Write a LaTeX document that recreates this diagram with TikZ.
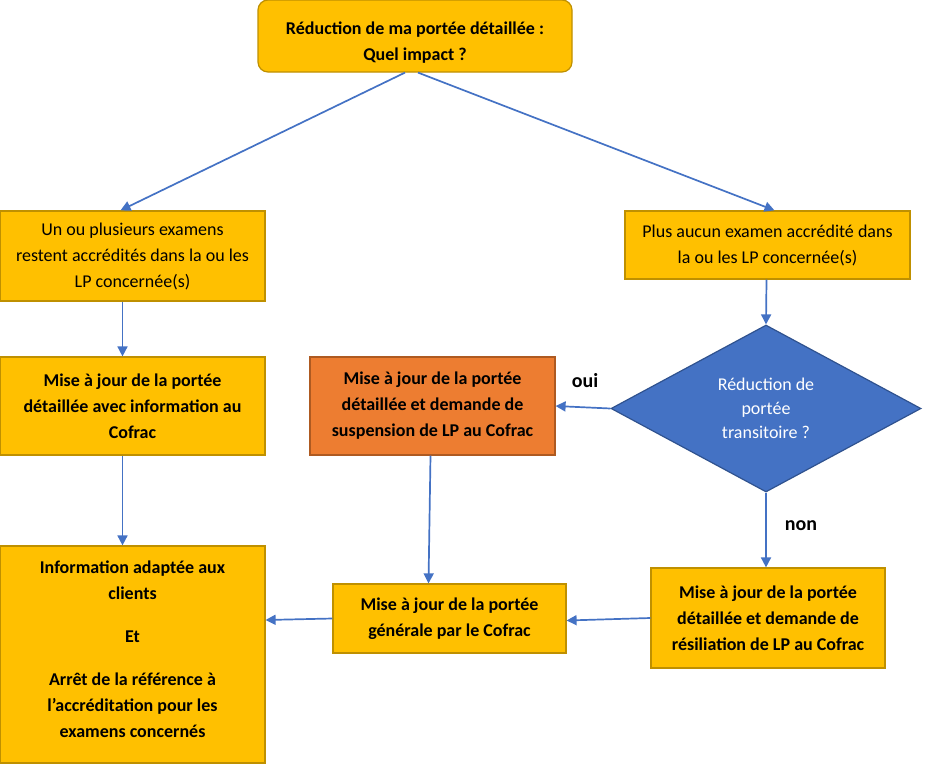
\documentclass[tikz,border=0pt]{standalone}
\usepackage{fontspec}
\setmainfont{Carlito}
\usepackage{tikz}
\usetikzlibrary{arrows.meta, shapes.geometric}

\definecolor{gold}{HTML}{FFC000}
\definecolor{golddark}{HTML}{BF9000}
\definecolor{orangebox}{HTML}{ED7D31}
\definecolor{orangedark}{HTML}{AE5A21}
\definecolor{bluebox}{HTML}{4472C4}
\definecolor{bluedark}{HTML}{2F528F}

\begin{document}
\begin{tikzpicture}[x=1pt, y=-1pt,
    box/.style={draw=golddark, fill=gold, line width=1.2pt, align=center, inner sep=0pt,
        font=\fontsize{18}{26}\selectfont},
    boldbox/.style={box, font=\fontsize{18}{26}\selectfont\bfseries},
    flow/.style={draw=bluebox, line width=1.7pt, -{Triangle[length=10pt,width=10pt]}},
    answer/.style={font=\fontsize{20}{24}\selectfont\bfseries}]
    \useasboundingbox (0,0) rectangle (933,768);
    \node[boldbox, rounded corners=10pt, minimum width=314pt, minimum height=72pt]
        (impact) at (415,36) {\rule{0pt}{25pt}Réduction de ma portée détaillée :\\Quel impact ?};
    \node[box, minimum width=265pt, minimum height=90pt] (restent) at (132.5,256)
        {Un ou plusieurs examens\\restent accrédités dans la ou les\\LP concernée(s)};
    \node[box, minimum width=285pt, minimum height=68pt] (aucun) at (767.5,245)
        {Plus aucun examen accrédité dans\\la ou les LP concernée(s)};
    \node[boldbox, minimum width=265pt, minimum height=98pt]
        (majinfo) at (132.5,406) {Mise à jour de la portée\\détaillée avec information au\\Cofrac};
    \node[boldbox, draw=orangedark, fill=orangebox, minimum width=245pt, minimum height=98pt]
        (suspension) at (432.5,406) {Mise à jour de la portée\\détaillée et demande de\\suspension de LP au Cofrac};
    \node[box, diamond, draw=bluedark, fill=bluebox, text=white, aspect=1.86,
        minimum width=310pt, minimum height=167pt, font=\fontsize{18}{24}\selectfont]
        (transitoire) at (766,408.5) {Réduction de\\portée\\transitoire ?};
    \node[boldbox, minimum width=265pt, minimum height=217pt]
        (clients) at (132.5,654.5) {Information adaptée aux\\clients\\[17pt]Et\\[17pt]Arrêt de la référence à\\l’accréditation pour les\\examens concernés\rule[-10pt]{0pt}{10pt}};
    \node[boldbox, minimum width=233pt, minimum height=69pt]
        (generale) at (449.5,618.5) {Mise à jour de la portée\\générale par le Cofrac};
    \node[boldbox, minimum width=234pt, minimum height=100pt]
        (resiliation) at (768,618) {Mise à jour de la portée\\détaillée et demande de\\résiliation de LP au Cofrac};
    % connectors
    \draw[flow] ([xshift=-10pt]impact.south) -- ([xshift=-12pt]restent.north);
    \draw[flow] ([xshift=3pt]impact.south) -- ([xshift=7pt]aucun.north);
    \draw[flow] ([xshift=-10pt]restent.south) -- ([xshift=-10pt]majinfo.north);
    \draw[flow] ([xshift=-10pt]majinfo.south) -- ([xshift=-10pt]clients.north);
    \draw[flow] ([xshift=-1pt]aucun.south) -- (transitoire.north);
    \draw[flow] (transitoire.west) -- (suspension.east);
    \draw[flow] (transitoire.south) -- ([xshift=-2pt]resiliation.north);
    \draw[flow] ([xshift=-2pt]suspension.south) -- ([xshift=-21pt]generale.north);
    \draw[flow] (resiliation.west) -- ([yshift=-2pt]generale.east);
    \draw[flow] (generale.west) -- ([yshift=34.5pt]clients.east);
    \node[answer] (oui) at (585,381) {oui};
    \node[answer] (non) at (801,526) {non};
\end{tikzpicture}
\end{document}
